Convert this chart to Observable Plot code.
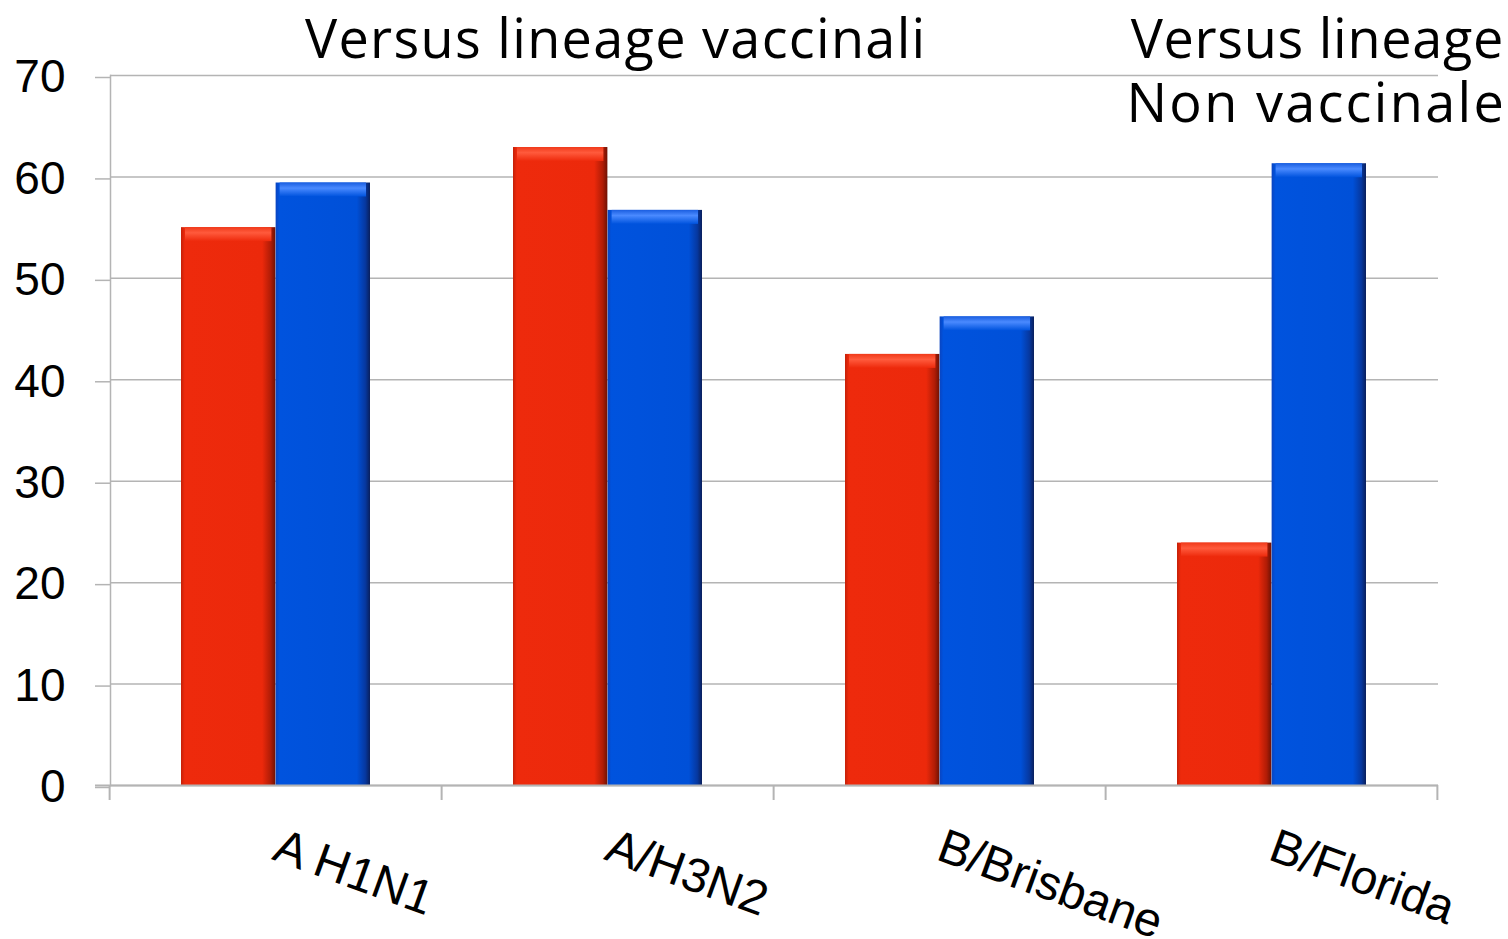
<!DOCTYPE html>
<html><head><meta charset="utf-8">
<script src="https://cdn.jsdelivr.net/npm/d3@7"></script>
<script src="https://cdn.jsdelivr.net/npm/@observablehq/plot@0.6"></script>
<style>
body{margin:0;background:#fff;}
#wrap{position:relative;width:1508px;height:939px;overflow:hidden;}
#chart{position:absolute;left:0;top:0;}
.title{position:absolute;font-family:"Open Sans",sans-serif;font-size:54px;color:#000;white-space:nowrap;z-index:2;line-height:normal;}
</style></head><body>
<div id="wrap">
<div id="chart"></div>
<div class="title" id="t1" style="left:305px;top:0px;letter-spacing:1.3px;">Versus lineage vaccinali</div>
<div class="title" id="t2a" style="right:4px;top:0px;letter-spacing:0.7px;">Versus lineage</div>
<div class="title" id="t2b" style="right:2px;top:64px;letter-spacing:2.3px;">Non vaccinale</div>
</div>
<script>
const categories = ["A H1N1", "A/H3N2", "B/Brisbane", "B/Florida"];
const redValues = [55.0, 62.9, 42.5, 23.9];
const blueValues = [59.4, 56.7, 46.2, 61.3];
const yTicks = [0, 10, 20, 30, 40, 50, 60, 70];

const W = 1508, H = 939;
const mL = 110, mR = 70, mT = 75, mB = 154;
const padIn = 0.43, padOut = 0.215;

const redData = categories.map((c, i) => ({cat: c, value: redValues[i]}));
const blueData = categories.map((c, i) => ({cat: c, value: blueValues[i]}));

const bw = Plot.scale({x: {type: "band", domain: categories, range: [mL, W - mR], paddingInner: padIn, paddingOuter: padOut}}).bandwidth;
const half = bw / 2;
const gray = "#b4b4b4";

const plot = Plot.plot({
  width: W, height: H,
  marginLeft: mL, marginRight: mR, marginTop: mT, marginBottom: mB,
  style: {fontFamily: "'Liberation Sans', Arial, sans-serif", background: "transparent", color: "#000"},
  x: {type: "band", domain: categories, paddingInner: padIn, paddingOuter: padOut, align: 0.5},
  y: {domain: [0, 70]},
  marks: [
    Plot.gridY(yTicks, {stroke: gray, strokeOpacity: 1, strokeWidth: 1.5}),
    Plot.axisY(yTicks, {tickSize: 15, tickPadding: 30, fontSize: 46, stroke: gray, strokeWidth: 1.5, fill: "#000", label: null, dy: 2}),
    Plot.frame({anchor: "left", stroke: gray, strokeWidth: 1.5}),
    Plot.barY(redData, {x: "cat", y: "value", insetLeft: 0, insetRight: half, fill: "url(#gRed)"}),
    Plot.barY(blueData, {x: "cat", y: "value", insetLeft: half, insetRight: 0, fill: "url(#gBlue)"}),
    Plot.barY(redData, {x: "cat", y1: "value", y2: "value", insetLeft: 4, insetRight: half + 4, insetBottom: -14, fill: "url(#gRedTop)"}),
    Plot.barY(blueData, {x: "cat", y1: "value", y2: "value", insetLeft: half + 4, insetRight: 4, insetBottom: -14, fill: "url(#gBlueTop)"}),
    Plot.ruleY([0], {stroke: gray, strokeWidth: 2, insetLeft: -15}),
    Plot.axisX({tickSize: 0, tickRotate: 20, tickPadding: 59, fontSize: 48, fill: "#000", label: null})
  ]
});

// gradient definitions for the bevelled bar look
const svg = d3.select(plot);
const defs = svg.insert("defs", ":first-child");
function hgrad(id, stops) {
  const g = defs.append("linearGradient").attr("id", id).attr("x1", 0).attr("x2", 1).attr("y1", 0).attr("y2", 0);
  stops.forEach(([o, c]) => g.append("stop").attr("offset", o).attr("stop-color", c));
}
function vgrad(id, stops) {
  const g = defs.append("linearGradient").attr("id", id).attr("x1", 0).attr("x2", 0).attr("y1", 0).attr("y2", 1);
  stops.forEach(([o, c]) => g.append("stop").attr("offset", o).attr("stop-color", c));
}
hgrad("gRed", [[0, "#c42008"], [0.04, "#ee2a0c"], [0.86, "#ec290b"], [0.95, "#b01c06"], [1, "#6e1204"]]);
hgrad("gBlue", [[0, "#0a44c0"], [0.04, "#0053de"], [0.86, "#0050d8"], [0.95, "#0638a0"], [1, "#0a1f5c"]]);
vgrad("gRedTop", [[0, "#f03a1a"], [0.4, "#ff5a3c"], [1, "#ee2a0c"]]);
vgrad("gBlueTop", [[0, "#1a5ee0"], [0.4, "#4a8aff"], [1, "#0053de"]]);

// category boundary ticks below the x axis, from the band scale
const xs = plot.scale("x"), ys = plot.scale("y");
const y0 = ys.apply(0);
const gap = xs.step * padIn / 2;
const bounds = categories.map(c => xs.apply(c) - gap).concat([xs.apply(categories[categories.length - 1]) + xs.bandwidth + gap]);
svg.append("g").selectAll("line").data(bounds).join("line")
  .attr("x1", d => d).attr("x2", d => d)
  .attr("y1", y0).attr("y2", y0 + 15)
  .attr("stroke", gray).attr("stroke-width", 2);

document.getElementById("chart").appendChild(plot);
</script>
</body></html>
